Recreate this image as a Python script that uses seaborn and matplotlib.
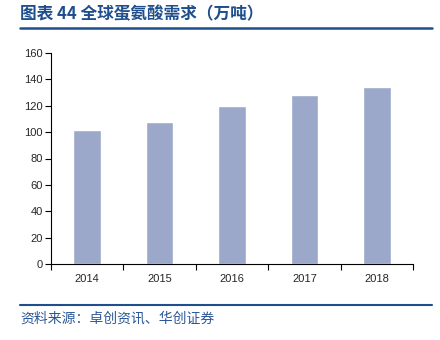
import matplotlib
matplotlib.use("Agg")
import matplotlib.pyplot as plt
import seaborn as sns
import pandas as pd
from matplotlib.lines import Line2D

years = ["2014", "2015", "2016", "2017", "2018"]
demand = [101.5, 108.0, 120.0, 128.0, 134.5]

title_text = "图表 44 全球蛋氨酸需求（万吨）"
source_text = "资料来源：卓创资讯、华创证券"

sns.set_theme(style="white")
plt.rcParams["font.family"] = ["Liberation Sans", "Noto Sans CJK SC", "DejaVu Sans"]

df = pd.DataFrame({"year": years, "demand": demand})

fig = plt.figure(figsize=(4.4, 3.4), dpi=100)
ax = fig.add_axes([51 / 440, 1 - 264 / 340, (413 - 51) / 440, (264 - 53) / 340])

sns.barplot(data=df, x="year", y="demand", color="#9BA8C9", saturation=1,
            width=0.38, ax=ax)

ax.set_ylim(0, 160)
ax.set_yticks(range(0, 161, 20))
ax.set_xlim(-0.5, len(years) - 0.5)
ax.set_xlabel("")
ax.set_ylabel("")

for s in ["top", "right"]:
    ax.spines[s].set_visible(False)
for s in ["left", "bottom"]:
    ax.spines[s].set_color("black")
    ax.spines[s].set_linewidth(0.8)

ax.tick_params(axis="y", which="major", direction="out", length=4, width=0.8,
               color="black", labelsize=8, pad=2, left=True)
ax.tick_params(axis="x", which="major", length=0, labelsize=8, pad=7)
ax.set_xticks([i + 0.5 for i in range(-1, len(years))], minor=True)
ax.tick_params(axis="x", which="minor", direction="out", length=4, width=0.8,
               color="black", bottom=True)

# Header and footer
fig.text(20 / 440, 1 - 14 / 340, title_text, fontsize=12, fontweight="bold",
         color="#1F4E8C", va="center", ha="left",
         family=["Noto Sans CJK SC", "DejaVu Sans"])
fig.add_artist(Line2D([20 / 440, 432 / 440], [1 - 27.5 / 340] * 2,
                      color="#1F4E8C", linewidth=1.8))
fig.add_artist(Line2D([20 / 440, 432 / 440], [1 - 305 / 340] * 2,
                      color="#1F4E8C", linewidth=1.5))
fig.text(20 / 440, 1 - 319 / 340, source_text, fontsize=10,
         color="#2B5797", va="center", ha="left",
         family=["Noto Sans CJK SC", "DejaVu Sans"])

fig.savefig("out.png", dpi=100)
